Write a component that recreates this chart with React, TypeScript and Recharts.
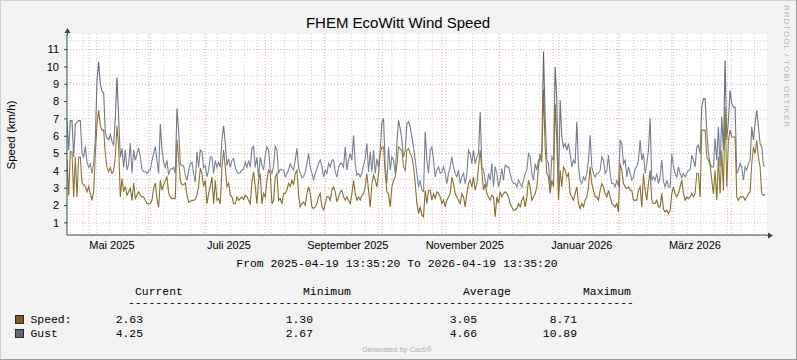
import React from 'react';
import { ComposedChart, Line, XAxis, YAxis, CartesianGrid } from 'recharts';

const START = Date.UTC(2025, 3, 19, 13, 35, 20);
const END = Date.UTC(2026, 3, 19, 13, 35, 20);
const SAMPLE_MS = Math.round((364 / 419) * 86400000);

const gust = [
  6.9,5.2,6.9,6.9,4.8,6.7,6.8,6.9,6.9,5.0,4.8,5.4,4.5,4.2,4.4,3.85,4.5,5.8,9.2,10.3,9.0,8.6,8.5,6.2,5.9,5.8,6.1,5.7,5.5,7.1,9.4,7.1,4.8,5.3,4.2,5.2,4.05,4.4,5.6,3.85,5.2,4.6,5.0,5.3,4.8,4.1,3.95,3.95,3.85,4.0,4.05,4.6,5.0,5.4,4.6,3.85,6.7,5.2,4.5,4.2,4.6,3.75,4.1,4.1,4.2,3.85,7.6,6.35,4.4,4.3,4.3,
  3.75,3.45,4.0,4.4,4.5,3.85,3.35,5.1,4.2,5.2,5.1,4.2,4.3,3.65,4.05,4.8,4.8,3.85,4.6,4.2,4.5,4.2,5.8,6.6,5.6,4.3,4.7,4.2,4.6,4.7,4.2,3.95,3.85,3.9,4.05,4.1,4.5,4.2,4.6,4.2,5.3,5.4,4.2,4.8,3.65,4.8,4.3,4.05,4.9,5.4,5.2,4.05,3.85,4.3,5.4,5.2,3.85,4.1,4.05,4.05,3.65,3.85,4.05,4.4,4.2,4.05,4.6,5.3,4.2,3.85,3.6,3.65,
  3.94,4.42,5.0,4.23,3.85,3.46,3.85,4.13,4.42,4.62,4.23,3.65,4.04,3.85,4.42,4.23,4.62,4.62,3.94,3.65,4.23,4.42,4.42,4.23,5.38,4.04,4.62,5.0,4.62,6.06,4.42,3.75,3.85,3.65,3.85,4.33,4.71,5.58,3.94,5.1,3.94,5.19,3.85,4.71,4.2,5.19,6.83,7.02,4.23,3.27,5.38,4.04,4.81,4.62,3.85,5.58,6.92,6.44,5.77,4.81,5.19,6.73,6.83,6.54,5.96,5.38,4.62,3.85,3.08,3.46,2.88,2.8,
  6.25,4.62,3.85,5.19,5.38,4.62,3.65,4.04,4.23,3.85,3.94,4.23,3.85,3.27,3.85,4.23,4.81,4.23,3.85,3.65,4.04,3.27,3.65,3.85,3.27,3.85,5.19,5.0,4.42,5.19,4.42,4.81,5.0,7.4,4.23,4.04,3.46,3.08,3.85,3.46,4.42,3.08,4.23,3.85,3.08,3.46,4.13,3.46,4.33,4.23,4.23,3.85,3.46,3.27,3.27,3.08,3.46,3.27,3.08,3.46,3.85,4.04,5.0,4.81,3.85,3.46,4.42,4.04,4.62,4.62,5.2,10.89,
  7.12,4.62,4.42,3.0,4.81,4.62,10.0,8.08,2.7,8.08,5.96,5.38,5.58,5.19,5.58,5.0,4.23,4.62,4.42,6.83,4.23,3.46,3.27,3.65,3.46,3.85,4.62,6.06,4.23,3.85,3.65,3.85,3.85,4.04,4.81,4.62,3.85,4.04,4.9,3.85,3.27,3.27,3.08,3.46,3.08,5.77,5.58,4.42,4.62,3.65,4.23,3.85,3.46,3.65,4.13,4.23,4.62,5.77,4.62,5.0,3.85,4.42,5.19,7.02,3.46,3.65,3.46,3.85,3.27,3.65,4.62,3.4,
  3.08,3.46,3.08,3.08,5.0,4.23,3.85,3.65,4.23,3.85,3.6,3.85,3.65,3.85,4.04,4.04,4.9,4.62,4.23,5.38,5.48,5.0,7.69,8.17,8.17,6.35,5.0,4.42,4.23,4.23,5.87,4.62,6.54,4.23,7.12,5.19,10.38,5.77,6.92,8.65,7.88,7.69,7.69,3.85,4.04,4.42,4.23,3.46,4.23,4.04,4.42,4.62,6.54,5.77,6.73,7.5,6.54,5.58,5.38,4.33,4.25,
];

const speed = [
  4.7,2.6,5.1,5.1,2.5,4.8,2.5,4.8,4.8,3.3,3.2,3.1,2.8,3.1,2.7,2.3,2.8,5.0,6.7,7.5,6.6,6.35,6.35,5.0,4.2,3.95,4.2,3.85,4.0,4.8,6.6,5.4,2.5,3.55,2.8,3.1,2.6,2.8,3.0,2.3,3.3,2.4,2.6,2.8,2.6,2.5,2.5,2.3,2.1,2.1,2.1,2.3,3.0,3.3,2.4,1.9,3.45,2.9,3.2,3.45,3.65,2.7,2.5,2.4,2.4,2.4,5.8,4.7,3.45,3.2,3.2,
  3.3,2.6,2.2,2.25,2.3,2.3,2.35,2.6,3.1,4.15,3.85,3.1,3.45,2.1,2.7,3.1,3.65,2.1,3.46,2.3,2.4,2.1,4.2,5.2,4.2,3.1,3.3,2.6,2.5,2.1,2.1,2.5,2.3,2.4,2.5,2.35,2.6,2.5,2.3,2.1,3.37,3.95,3.1,2.1,3.46,3.85,2.1,2.7,2.5,3.46,4.05,3.85,2.1,2.3,3.65,3.85,2.3,2.4,2.1,2.7,2.7,2.9,3.27,3.1,3.46,3.2,3.85,4.05,2.6,1.92,2.1,2.2,
  2.02,2.69,3.08,2.69,1.92,1.83,1.92,2.12,2.5,2.69,1.92,1.75,2.12,2.5,2.5,2.31,2.88,3.08,2.79,2.21,2.5,2.79,2.88,2.5,2.31,2.5,2.31,2.12,2.69,3.46,2.69,2.31,2.5,2.31,2.6,2.69,3.08,3.85,2.88,1.92,3.27,3.75,3.46,3.08,3.85,5.0,5.38,5.38,3.85,2.79,2.69,1.92,3.08,3.46,3.65,4.33,5.38,5.29,5.19,4.23,4.04,5.19,5.29,5.0,4.81,4.23,3.27,2.12,1.54,1.92,1.44,1.35,
  2.88,2.12,2.88,2.88,2.31,2.69,2.4,2.79,2.69,2.5,2.12,2.31,1.92,2.31,2.5,2.69,3.65,3.27,2.69,2.5,2.31,2.12,2.69,2.5,1.92,2.69,3.27,3.46,3.08,3.65,2.88,3.27,4.23,5.19,4.0,2.88,3.27,2.69,2.5,2.31,2.6,2.5,1.35,2.5,2.12,2.79,2.5,2.69,2.79,2.69,2.5,2.12,1.92,1.73,1.73,1.83,2.12,1.92,2.31,2.5,1.92,2.5,3.46,3.08,2.31,2.5,2.69,3.08,4.23,5.0,4.5,8.71,
  5.38,3.85,3.65,2.7,3.46,3.08,7.88,5.77,2.31,4.04,3.08,4.23,4.04,3.65,3.85,2.69,2.5,2.31,2.69,3.08,2.12,1.83,2.12,1.92,2.31,2.5,3.08,4.23,3.27,2.88,2.5,2.5,2.31,2.88,3.27,3.08,2.69,2.5,2.88,2.5,2.12,2.02,1.92,2.12,1.63,4.42,4.04,3.27,3.08,2.98,3.08,2.88,2.88,2.31,2.31,2.31,2.88,3.08,1.92,3.85,2.88,2.31,3.27,4.04,2.31,2.12,2.12,2.31,1.92,1.92,2.69,1.8,
  1.63,1.73,1.54,1.73,2.69,3.08,2.69,2.5,2.69,3.08,3.46,2.69,2.31,2.5,2.4,2.5,2.69,2.5,2.69,3.85,3.85,2.5,6.35,6.35,6.35,4.81,4.62,4.33,3.46,2.69,4.04,2.31,4.81,2.69,5.19,2.88,7.69,3.08,5.77,6.35,5.96,5.96,5.96,2.5,2.31,2.5,2.5,2.5,2.31,2.5,2.69,2.79,4.42,5.38,5.0,5.77,4.81,4.23,2.69,2.6,2.63,
];

const yTicks = [1, 2, 3, 4, 5, 6, 7, 8, 9, 10, 11];
const yMinor = [0.5, 1.5, 2.5, 3.5, 4.5, 5.5, 6.5, 7.5, 8.5, 9.5, 10.5, 11.5];
const monthLabels = [
  { y: 2025, m: 4, text: 'Mai 2025' },
  { y: 2025, m: 6, text: 'Juli 2025' },
  { y: 2025, m: 8, text: 'September 2025' },
  { y: 2025, m: 10, text: 'November 2025' },
  { y: 2026, m: 0, text: 'Januar 2026' },
  { y: 2026, m: 2, text: 'März 2026' },
];
const legendRows = [
  { name: 'Speed:', color: '#7d5f14', current: '2.63', minimum: '1.30', average: '3.05', maximum: '8.71' },
  { name: 'Gust', color: '#5f6b7d', current: '4.25', minimum: '2.67', average: '4.66', maximum: '10.89' },
];

const DAY = 86400000;
const data = gust.map((g, i) => ({ t: START + i * SAMPLE_MS, gust: g, speed: speed[i] }));

const monthStarts: number[] = [];
for (let k = 1; k <= 12; k++) {
  const d = Date.UTC(2025, 3 + k, 1);
  if (d < END) monthStarts.push(d);
}
const weeks: number[] = [];
for (let d = Date.UTC(2025, 3, 21); d < END; d += 7 * DAY) weeks.push(d);
const labelTicks = monthLabels.map((l) => Date.UTC(l.y, l.m, 1) + 12 * DAY);
const labelText = (v: number) => {
  const i = labelTicks.indexOf(v);
  return i >= 0 ? monthLabels[i].text : '';
};

const SANS = "'Liberation Sans', Arial, sans-serif";
const MONO = "'Liberation Mono', 'Courier New', monospace";
const AXIS = '#2c4d43';

export default function App() {
  return (
    <div style={{ position: 'fixed', left: 0, top: 0, width: 797, height: 360, background: '#f3f3f3' }}>
      <ComposedChart width={797} height={360} data={data} margin={{ top: 34, right: 30, left: 0, bottom: 0 }}>
        <defs>
          <linearGradient id="gustStroke" x1="0" y1="34" x2="0" y2="235" gradientUnits="userSpaceOnUse">
            <stop offset="0" stopColor="#556073" />
            <stop offset="0.5" stopColor="#6f798b" />
            <stop offset="1" stopColor="#8d96a6" />
          </linearGradient>
          <linearGradient id="speedStroke" x1="0" y1="34" x2="0" y2="235" gradientUnits="userSpaceOnUse">
            <stop offset="0" stopColor="#7a5c12" />
            <stop offset="0.6" stopColor="#947a36" />
            <stop offset="1" stopColor="#7f6219" />
          </linearGradient>
        </defs>
        <CartesianGrid
          fill="#ffffff"
          horizontalValues={yMinor}
          verticalValues={weeks}
          stroke="#cdcdcd"
          strokeDasharray="1 2"
        />
        <CartesianGrid
          horizontalValues={yTicks}
          verticalValues={monthStarts}
          stroke="#eaa6a6"
          strokeDasharray="1 2"
        />
        <XAxis
          dataKey="t"
          type="number"
          domain={[START, END]}
          allowDataOverflow
          ticks={labelTicks}
          tickFormatter={labelText}
          tickLine={false}
          tickSize={0}
          tickMargin={6}
          height={125}
          axisLine={{ stroke: AXIS }}
          tick={{ fontSize: 11, fill: '#000', fontFamily: SANS }}
        />
        <YAxis
          type="number"
          domain={[0.3, 11.9]}
          allowDataOverflow
          ticks={yTicks}
          width={67}
          tickSize={3}
          tickMargin={5}
          tickLine={{ stroke: AXIS }}
          axisLine={{ stroke: AXIS }}
          tick={{ fontSize: 11, fill: '#000', fontFamily: SANS }}
        />
        <Line type="linear" dataKey="gust" stroke="url(#gustStroke)" strokeWidth={1.1} dot={false} isAnimationActive={false} />
        <Line type="linear" dataKey="speed" stroke="url(#speedStroke)" strokeWidth={1.1} dot={false} isAnimationActive={false} />
      </ComposedChart>
      <svg width={797} height={360} style={{ position: 'absolute', left: 0, top: 0, pointerEvents: 'none' }}>
        <line x1={0.5} y1={0} x2={0.5} y2={360} stroke="#cfcfcf" />
        <line x1={0} y1={0.5} x2={797} y2={0.5} stroke="#cfcfcf" />
        <line x1={796.5} y1={0} x2={796.5} y2={360} stroke="#9e9e9e" />
        <line x1={0} y1={359.5} x2={797} y2={359.5} stroke="#9e9e9e" />
        <line x1={67.5} y1={35} x2={67.5} y2={32} stroke={AXIS} />
        <polygon points="64.5,33 70.5,33 67.5,28" fill={AXIS} />
        <line x1={767} y1={235.5} x2={769} y2={235.5} stroke={AXIS} />
        <polygon points="768,232.5 768,238.5 773,235.5" fill={AXIS} />
        <text x={398} y={28} textAnchor="middle" fontFamily={SANS} fontSize={15} fill="#000">FHEM EcoWitt Wind Speed</text>
        <text transform="translate(15,135) rotate(-90)" textAnchor="middle" fontFamily={SANS} fontSize={11.5} fill="#000">Speed (km/h)</text>
        <text transform="translate(784,5) rotate(90)" textAnchor="start" fontFamily={SANS} fontSize={8} letterSpacing={1} fill="#b4b4b4">RRDTOOL / TOBI OETIKER</text>
        <text x={397} y={267} textAnchor="middle" fontFamily={MONO} fontSize={11.4} fill="#000" style={{ whiteSpace: 'pre' }}>From 2025-04-19 13:35:20 To 2026-04-19 13:35:20</text>
        <text x={135} y={295} fontFamily={MONO} fontSize={11.4} fill="#000">Current</text>
        <text x={303} y={295} fontFamily={MONO} fontSize={11.4} fill="#000">Minimum</text>
        <text x={463} y={295} fontFamily={MONO} fontSize={11.4} fill="#000">Average</text>
        <text x={583} y={295} fontFamily={MONO} fontSize={11.4} fill="#000">Maximum</text>
        <text x={128} y={306} fontFamily={MONO} fontSize={11.4} fill="#000">{'-'.repeat(74)}</text>
        {legendRows.map((r, i) => {
          const by = 322.5 + i * 14;
          return (
            <g key={r.name}>
              <rect x={15.5} y={by - 7} width={8} height={8} fill={r.color} stroke="#2a2a2a" />
              <text x={30.5} y={by} fontFamily={MONO} fontSize={11.4} fill="#000">{r.name}</text>
              <text x={143} y={by} textAnchor="end" fontFamily={MONO} fontSize={11.4} fill="#000">{r.current}</text>
              <text x={313} y={by} textAnchor="end" fontFamily={MONO} fontSize={11.4} fill="#000">{r.minimum}</text>
              <text x={477} y={by} textAnchor="end" fontFamily={MONO} fontSize={11.4} fill="#000">{r.average}</text>
              <text x={577} y={by} textAnchor="end" fontFamily={MONO} fontSize={11.4} fill="#000">{r.maximum}</text>
            </g>
          );
        })}
        <text x={397} y={352} textAnchor="middle" fontFamily={SANS} fontSize={7.5} fill="#b0b0b0">Generated by Cacti®</text>
      </svg>
    </div>
  );
}
